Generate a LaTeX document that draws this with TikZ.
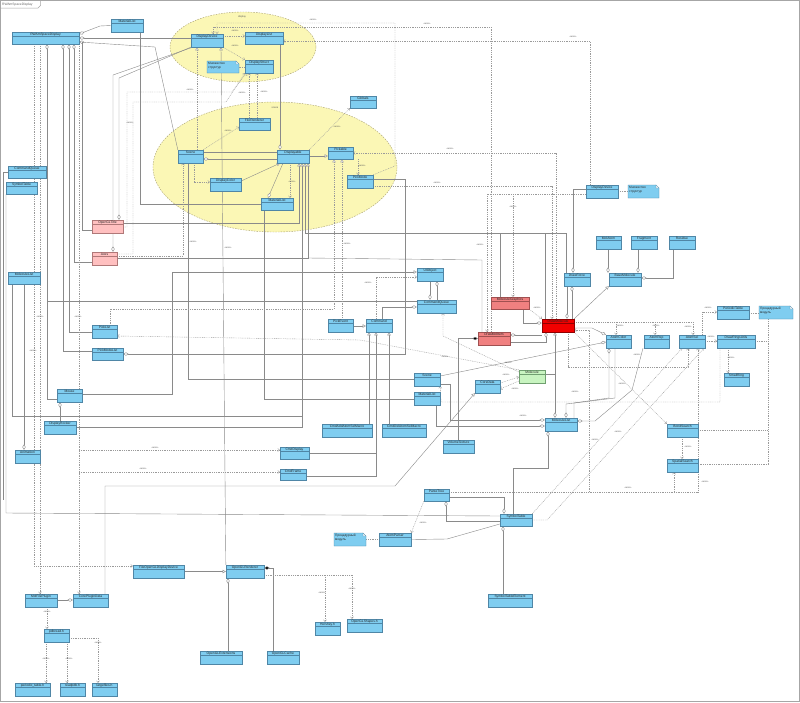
\documentclass[tikz,border=0pt]{standalone}
\usepackage{fontspec}
\setmainfont{Liberation Sans}
\usetikzlibrary{arrows.meta,calc}
\pgfdeclarelayer{bg}\pgfdeclarelayer{lines}
\pgfsetlayers{bg,lines,main}
\definecolor{cbf}{HTML}{7FCDF0}\definecolor{cbl}{HTML}{4F86A6}
\definecolor{pkf}{HTML}{FFC0C0}\definecolor{pkl}{HTML}{B07878}
\definecolor{lrf}{HTML}{F08080}\definecolor{lrl}{HTML}{A05050}
\definecolor{rdf}{HTML}{F20000}\definecolor{rdl}{HTML}{900000}
\definecolor{gnf}{HTML}{C8F4C0}\definecolor{gnl}{HTML}{70A070}
\definecolor{elf}{HTML}{FBF7B5}\definecolor{ell}{HTML}{A8A070}
\definecolor{lnc}{HTML}{8A8A8A}
\definecolor{dtc}{HTML}{9A9A9A}
\newcommand\umlc[7][cb]{%
  \node[clsbox, fill=#1f, draw=#1l, minimum width={(#5)-(#3)}, minimum height={(#6)-(#4)}] (#2) at ({((#3)+(#5))/2},{((#4)+(#6))/2}) {};
  \draw[draw=#1l, line width=0.3pt] ({#3},{#4+4.6}) -- ({#5},{#4+4.6});
  \node[ct] at ({((#3)+(#5))/2},{#4+2.4}) {#7};
}
\newcommand\umln[6]{%
  \node[inner sep=0pt, minimum width={(#4)-(#2)}, minimum height={(#5)-(#3)}] (#1) at ({((#2)+(#4))/2},{((#3)+(#5))/2}) {};
  \draw[draw=cbl, fill=cbf, line width=0.3pt] (#2,#3) -- ({#4-3},#3) -- (#4,{#3+3}) -- (#4,#5) -- (#2,#5) -- cycle;
  \draw[draw=cbl, fill=white, line width=0.3pt] ({#4-3},#3) -- ({#4-3},{#3+3}) -- (#4,{#3+3}) -- cycle;
  \node[ct, align=left, anchor=north west, font=\fontsize{3.2}{3.9}\selectfont] at ({#2+1},{#3+1.2}) {#6};
}
\begin{document}
\begin{tikzpicture}[x=1pt,y=-1pt,
  ct/.style={font=\fontsize{3.3}{3.8}\selectfont, inner sep=0pt, text=black!85},
  ut/.style={font=\fontsize{2.5}{3}\selectfont, inner sep=0.2pt, text=black!65},
  clsbox/.style={rectangle, line width=0.35pt, inner sep=0pt},
  con/.style={draw=lnc, line width=0.4pt},
  agg/.style={con, {Diamond[fill=white,length=5.5pt,width=3.2pt]}-},
  comp/.style={con, {Diamond[fill=black,length=5.5pt,width=3.2pt]}-},
  inh/.style={con, {Triangle[fill=white,length=3.2pt,width=3.4pt]}-},
  inhagg/.style={con, {Triangle[fill=white,length=3.2pt,width=3.4pt]}-{Diamond[fill=white,length=5.5pt,width=3.2pt]}},
  dots/.style={draw=dtc, line width=0.4pt, dash pattern=on 0.9pt off 0.9pt},
  dep/.style={dots, -{Straight Barb[length=1.8pt,width=3.2pt]}},
  real/.style={dots, {Triangle[fill=white,length=3.2pt,width=3.4pt]}-},
  ndot/.style={dots}]
\useasboundingbox (0,0) rectangle (800,702);
% frame
\draw[black!35, line width=0.8pt] (0.6,0.6) rectangle (799.4,701.4);
\draw[black!35, line width=0.5pt] (0.6,8) -- (38,8) -- (40.5,5.5) -- (40.5,0.6);
\node[ct, anchor=west, text=black!60] (frametitle) at (2,4.3) {RWAmSpaceDisplay};
% ---------- classes ----------
\umlc{matA}{111}{19}{143}{32}{MaterialList}
\umlc{rw}{12}{32}{79}{44}{RWAmSpaceDisplay}
\umlc{dd}{191}{34}{223}{47}{DisplayDevice}
\umlc{dl}{245}{32}{283}{44}{DisplayList}
\umlc{ds}{245}{60}{273}{73}{DisplayStruct}
\umln{noteA}{207}{61}{239}{73}{Множество\\структур}
\umlc{fr}{239}{118}{270}{130}{FileRenderer}
\umlc{glob}{350}{96}{376}{108}{Globals}
\umlc{scene}{178}{150}{203}{163}{Scene}
\umlc{disp}{277}{150}{309}{163}{Displayable}
\umlc{pick}{328}{147}{353}{159}{Pickable}
\umlc{pmode}{347}{175}{373}{188}{PickMode}
\umlc{dcol}{210}{178}{241}{191}{DisplayColor}
\umlc{matB}{261}{198}{293}{210}{MaterialList}
\umlc{cq}{8}{166}{46}{178}{CommandQueue}
\umlc{st}{6}{182}{37}{194}{SymbolTable}
\umlc[pk]{ogt}{92}{220}{123}{233}{OpenGLTitle}
\umlc[pk]{axes}{92}{252}{117}{265}{Axes}
\umlc{mlA}{8}{272}{40}{284}{MoleculeList}
\umlc{plist}{92}{325}{117}{338}{PickList}
\umlc{pml}{92}{348}{123}{360}{PickModeList}
\umlc{mouse}{57}{389}{82}{402}{Mouse}
\umlc{drock}{44}{421}{76}{434}{DisplayRocker}
\umlc{anim}{15}{450}{40}{463}{Animation}
\umlc{uio}{417}{268}{443}{281}{UIObject}
\umlc{cqB}{417}{300}{456}{313}{CommandQueue}
\umlc{pev}{328}{319}{353}{332}{PickEvent}
\umlc{cmd}{366}{319}{392}{332}{Command}
\umlc[lr]{mg}{491}{297}{529}{309}{MoleculeGraphics}
\umlc[lr]{dmi}{478}{332}{510}{345}{DrawMolItem}
\umlc[gn]{mol}{519}{370}{545}{383}{Molecule}
\umlc{sceneB}{414}{373}{440}{386}{Scene}
\umlc{matC}{414}{392}{440}{405}{MaterialList}
\umlc{core}{475}{380}{500}{393}{CoreData}
\umlc{cadd}{322}{424}{372}{437}{CmdAddAtomSelMacro}
\umlc{cdel}{382}{424}{426}{437}{CmdDelAtomSelMacro}
\umlc{vol}{443}{440}{474}{453}{VolumeTexture}
\umlc{cdisp}{280}{447}{309}{459}{CmdDisplay}
\umlc{cframe}{280}{469}{306}{480}{CmdFrame}
\umlc{molatom}{596}{236}{621}{249}{MolAtom}
\umlc{frag}{631}{236}{657}{249}{Fragment}
\umlc{res}{669}{236}{695}{249}{Residue}
\umlc{dforce}{564}{273}{590}{286}{DrawForce}
\umlc{bmol}{609}{273}{641}{286}{BaseMolecule}
\umlc[rd]{dmol}{542}{319}{574}{332}{DrawMolecule}
\umlc{acol}{606}{335}{631}{348}{AtomColor}
\umlc{arep}{644}{335}{669}{348}{AtomRep}
\umlc{asel}{679}{335}{705}{348}{AtomSel}
\umlc{drings}{717}{335}{755}{348}{DrawRingsUtils}
\umlc{ptab}{717}{306}{749}{319}{PeriodicTable}
\umln{noteB}{759}{306}{793}{319}{Процедурный\\модуль}
\umlc{sring}{724}{373}{749}{386}{SmallRing}
\umlc{mlB}{545}{418}{577}{431}{MoleculeList}
\umlc{bsearch}{667}{424}{698}{437}{BondSearch}
\umlc{ssearch}{667}{459}{698}{472}{SpatialSearch}
\umlc{ddB}{586}{185}{618}{198}{DisplayDevice}
\umln{noteC}{628}{185}{659}{198}{Множество\\структур}
\umlc{fogl}{133}{565}{184}{578}{FileOpenGLDisplayDevice}
\umlc{oglr}{226}{565}{264}{578}{OpenGLRenderer}
\umlc{molfp}{25}{594}{57}{607}{MolFilePlugin}
\umlc{cpd}{73}{594}{108}{607}{CorePluginData}
\umlc{pdbr}{44}{629}{69}{642}{pdbread.h}
\umlc{ptabh}{15}{683}{50}{696}{periodic\_table.h}
\umlc{rpdb}{60}{683}{85}{696}{readpdb.h}
\umlc{lfile}{92}{683}{117}{696}{largefiles.h}
\umlc{oglext}{200}{651}{242}{664}{OpenGLExtensions}
\umlc{ptree}{424}{489}{449}{501}{ParseTree}
\umlc{stB}{500}{514}{532}{526}{SymbolTable}
\umlc{apars}{379}{533}{411}{546}{AtomParser}
\umln{noteD}{334}{533}{366}{546}{Процедурный\\модуль}
\umlc{hersh}{315}{622}{340}{635}{Hershey.h}
\umlc{oglsh}{347}{619}{382}{632}{OpenGLShapes.h}
\umlc{oglc}{267}{651}{299}{664}{OpenGLCache}
\umlc{ste}{488}{594}{532}{607}{SymbolTableElement}
% ---------- packages (ellipses) ----------
\begin{pgfonlayer}{bg}
\fill[white] (0,0) rectangle (800,702);
\draw[draw=ell, fill=elf, dash pattern=on 1.5pt off 1.2pt, line width=0.4pt] (243,47) ellipse [x radius=73, y radius=35];
\draw[draw=ell, fill=elf, dash pattern=on 1.5pt off 1.2pt, line width=0.4pt] (275,167) ellipse [x radius=122, y radius=65];
\node[ut] (pkgA) at (242,17) {display};
\node[ut] (pkgB) at (275,108) {scene};
\end{pgfonlayer}
% ---------- connectors ----------
\begin{pgfonlayer}{lines}
% RWAmSpaceDisplay
\draw[agg] (rw.east |- 0,34) -- (100,26) -- (matA.west);
\draw[agg] (rw.east |- 0,38) -- (dd.west |- 0,38);
\draw[agg] (rw.east |- 0,42) -- (155,47) -- (scene.north west);
\draw[con] (82,42.2) -- (82,230) -- (ogt.west |- 0,230);
\draw[dep] (rw.south -| 34,0) -- (34,566) -- (fogl.west |- 0,566);
\draw[dep] (rw.south -| 40,0) -- (molfp.north -| 40,0);
\draw[agg] (rw.south -| 47,0) -- (47,301) -- (cqB.west |- 0,301);
\draw[con] (47,301) -- (47,399) -- (mouse.west |- 0,399);
\draw[agg] (rw.south -| 63,0) -- (63,351) -- (pml.west |- 0,351);
\draw[agg] (rw.south -| 69,0) -- (69,332) -- (plist.west |- 0,332);
\draw[agg] (rw.south -| 74,0) -- (74,262) -- (axes.west |- 0,262);
\draw[dep] (rw.south -| 79,0) -- (cpd.north -| 79,0);
\draw[dep] (79,450) -- (cdisp.west |- 0,450);
\draw[dep] (79,472) -- (cframe.west |- 0,472);
\draw[con] (st.south -| 6,0) -- (6,513) -- (stB.west |- 0,516);
\draw[con] (cq.west) -- (3.5,172) -- (3.5,500);
\draw[agg] (anim.north -| 24,0) -- (mlA.south -| 24,0);
\draw[con] (mlA.south -| 12,0) -- (12,416) -- (302,416);
\draw[con] (matA.south -| 140,0) -- (140,204) -- (matB.west |- 0,204);
\draw[con] (matB.south -| 264,0) -- (264,399) -- (matC.west |- 0,399);
\draw[con] (scene.south -| 188,0) -- (188,379) -- (sceneB.west |- 0,379);
% DisplayDevice
\draw[agg] (ogt.north -| 119,0) -- (119,78) -- (dd.south west);
\draw[agg] (axes.north -| 113,0) -- (113,75) -- ([xshift=2pt]dd.south west);
\draw[dep] (dd.east |- 0,36) -- (dl.west |- 0,36);
\draw[dep] (dd.south east) -- (ds.north west);
\draw[real] (dd.south -| 197,0) -- (scene.north -| 197,0);
\draw[inh] (dd.south -| 221,0) -- (oglr.north west);
\draw[dep] (dmi.north -| 491,0) -- (491,27) -- (213,27) -- (dd.north -| 213,0);
\draw[dep] (pmode.north east) -- (395,166) -- (395,23) -- (217,23) -- (dd.north -| 217,0);
\draw[dep] (ddB.north -| 590,0) -- (590,41) -- (dl.east |- 0,41);
\draw[dep] (ddB.west |- 0,194) -- (487,194) -- (dmi.north -| 487,0);
\draw[dep] (513,194) -- (mg.north -| 513,0);
\draw[agg] (dforce.north -| 573,0) -- (573,189) -- (ddB.west |- 0,189);
\draw[ndot] (ddB.east) -- (noteC.west);
\draw[ndot] (ds.west |- 0,67) -- (noteA.east |- 0,67);
% scene package
\draw[agg] (disp.north -| 280,0) -- (dl.south -| 280,0);
\draw[con] (scene.east |- 0,152) -- (disp.west |- 0,152);
\draw[agg] (scene.east |- 0,159) -- (disp.west |- 0,159);
\draw[dep] (scene.north east) -- (fr.west |- 0,127);
\draw[dep] (scene.south -| 194,0) -- (194,182) -- (dcol.west |- 0,182);
\draw[inh] (disp.south -| 280,0) -- (dcol.east |- 0,181);
\draw[agg] (matB.north -| 268,0) -- (disp.south -| 283,0);
\draw[dep] (disp.south -| 290,0) -- (matB.north -| 290,0);
\draw[inh] (pick.west |- 0,156) -- (disp.east |- 0,156);
\draw[dep] (disp.north east) -- (glob.south west);
\draw[dep] (pick.south -| 358,0) -- (pmode.north -| 358,0);
\draw[dep] (fr.north -| 249,0) -- (ds.south -| 249,0);
\draw[dep] (fr.north -| 257,0) -- (ds.south -| 257,0);
\draw[dep] (axes.east |- 0,254) -- (133,254) -- (133,102) -- (226,102) -- (ds.south west);
\draw[dep] (ogt.east |- 0,227) -- (127,227) -- (127,92) -- (232,92) -- ([xshift=1.5pt]ds.south west);
\draw[dep] (axes.east |- 0,256) -- (183,256) -- (scene.south -| 183,0);
% Displayable subclasses
\draw[inh] (disp.south -| 299,0) -- (299,223) -- (ogt.east |- 0,223);
\draw[inh] (disp.south -| 302,0) -- (302,427) -- (drock.east |- 0,427);
\draw[inh] (disp.south -| 305,0) -- (305,233) -- (566,233) -- (dforce.north -| 566,0);
\draw[con] (500,233) -- (mg.north -| 500,0);
\draw[con] (545,233) -- (dmol.north -| 545,0);
\draw[inh] (disp.south -| 308,0) -- (308,258) -- (axes.east |- 0,258);
\draw[con] (308,258) -- (482,260) -- (dmi.north -| 482,0);
% Pickable
\draw[real] (pick.south -| 334,0) -- (334,309) -- (110,309) -- (plist.north -| 110,0);
\draw[real] (pick.south -| 342,0) -- (pev.north -| 342,0);
\draw[dep] (dmol.north -| 556,0) -- (556,153) -- (pick.east |- 0,153);
\draw[dep] (pmode.east |- 0,186) -- (552,186) -- (dmol.north -| 552,0);
\draw[agg] (pml.east |- 0,354) -- (405,354) -- (405,179) -- (pmode.east |- 0,179);
% Mouse, UI, commands
\draw[inh] (uio.west |- 0,272) -- (172,272) -- (172,394) -- (mouse.east |- 0,394);
\draw[agg] (mouse.south -| 60,0) -- (drock.north -| 60,0);
\draw[dep] (cmd.north -| 376,0) -- (376,277) -- (uio.west |- 0,277);
\draw[agg] (cqB.north -| 430,0) -- (uio.south -| 430,0);
\draw[agg] (uio.south -| 437,0) -- (cqB.north -| 437,0);
\draw[agg] (cqB.west |- 0,307) -- (382,307) -- (cmd.north -| 382,0);
\draw[inh] (cmd.west |- 0,326) -- (pev.east |- 0,326);
\draw[inh] (cmd.south -| 369,0) -- (cadd.north -| 369,0);
\draw[inh] (cmd.south -| 389,0) -- (cdel.north -| 389,0);
\draw[inh] (cmd.south -| 376,0) -- (376,476) -- (cframe.east |- 0,476);
\draw[con] (376,453) -- (cdisp.east |- 0,453);
% Molecule area
\draw[dep] (mol.west |- 0,372) -- (443,336) -- (cqB.south -| 443,0);
\draw[dep] (mol.north west) -- (360,340) -- (plist.east |- 0,336);
\draw[dep] (core.east |- 0,383) -- (mol.west |- 0,377);
\draw[dep] (mol.west |- 0,381) -- (core.east |- 0,389);
\draw[inhagg] (dmol.south -| 555,0) -- (mlB.north -| 555,0);
\draw[con] (mol.east |- 0,374) -- (555,374);
\draw[agg] (dmol.south -| 546,0) -- (546,342) -- (dmi.east |- 0,342);
\draw[agg] (dmi.east |- 0,335) -- (dmol.west |- 0,335);
\draw[agg] (dmol.west |- 0,323) -- (523,323) -- (mg.south -| 523,0);
\draw[dep] (mg.south east) -- (dmol.north west);
\draw[agg] (dmol.north -| 567,0) -- (dforce.south -| 567,0);
\draw[agg] (dforce.south -| 572,0) -- (dmol.north -| 572,0);
\draw[inh] (bmol.south west) -- (dmol.north east);
\draw[agg] (bmol.north -| 608,0) -- (molatom.south -| 608,0);
\draw[agg] (bmol.north -| 638,0) -- (frag.south -| 638,0);
\draw[agg] (bmol.east |- 0,278) -- (673,278) -- (res.south -| 673,0);
\draw[comp] (dmi.west) -- (458,338.5) -- (vol.north -| 458,0);
% DrawMolecule dependencies
\draw[dep] (dmol.east |- 0,322) -- (693,322) -- (asel.north -| 693,0);
\draw[dep] (616,322) -- (acol.north -| 616,0);
\draw[dep] (655,322) -- (arep.north -| 655,0);
\draw[agg] (acol.north west) -- (592,328) -- (dmol.east |- 0,328);
\draw[agg] (acol.west |- 0,342) -- (sceneB.east |- 0,376);
\draw[agg] (acol.south -| 609,0) -- (609,398) -- (574,403) -- (mlB.north -| 574,0);
\draw[agg] (mlB.north -| 566,0) -- (566,404) -- (615,398) -- (acol.south -| 615,0);
\draw[agg] (mlB.east |- 0,421) -- (595,421) -- (632,390) -- (arep.south -| 643,0);
\draw[agg] (mlB.west |- 0,420) -- (450,420) -- (450,384) -- (sceneB.east |- 0,384);
\draw[agg] (mlB.west |- 0,426) -- (436,426) -- (matC.south -| 436,0);
\draw[agg] (mlB.south -| 548,0) -- (548,468) -- (513,468) -- (stB.north -| 513,0);
\draw[dep] (dmol.south east) -- (bsearch.north west);
\draw[dep] (dmol.south -| 568,0) -- (568,367) -- (688,367) -- (asel.south -| 688,0);
\draw[dep] (drings.south -| 720,0) -- (720,402) -- (441,402) -- (sceneB.south east);
% AtomSel, rings, search
\draw[dep] (asel.east |- 0,341) -- (drings.west |- 0,341);
\draw[dep] (asel.north -| 702,0) -- (702,312) -- (ptab.west |- 0,312);
\draw[dep] (drings.south -| 728,0) -- (sring.north -| 728,0);
\draw[ndot] (ptab.east |- 0,313) -- (noteB.west |- 0,313);
\draw[ndot] (noteB.south -| 768,0) -- (768,464) -- (ssearch.east |- 0,464);
\draw[ndot] (drings.east) -- (768,341.5);
\draw[ndot] (bsearch.east) -- (768,430.5);
\draw[dep] (bsearch.south -| 682,0) -- (ssearch.north -| 682,0);
\draw[dep] (stB.north east) -- (asel.south -| 682,0);
\draw[dep] (stB.east) -- (547,520) -- (asel.south -| 704,0);
\draw[dep] (ptree.east |- 0,492) -- (674,492) -- (ssearch.south -| 674,0);
\draw[dep] (674,492) -- (698,492) -- (asel.south -| 698,0);
\draw[dep] (589,492) -- (589,330) -- (dmol.east |- 0,330);
% plugins, parser, renderer
\draw[inh] (core.south west) -- (395,486) -- (105,486) -- (cpd.north -| 105,0);
\draw[agg] (cpd.west |- 0,600) -- (molfp.east |- 0,600);
\draw[dep] (molfp.south -| 47,0) -- (pdbr.north -| 47,0);
\draw[dep] (pdbr.south -| 46,0) -- (ptabh.north -| 46,0);
\draw[dep] (pdbr.south -| 67,0) -- (rpdb.north -| 67,0);
\draw[dep] (pdbr.east |- 0,638) -- (98,638) -- (lfile.north -| 98,0);
\draw[inh] (oglr.west) -- (fogl.east);
\draw[agg] (oglr.south -| 228,0) -- (oglext.north -| 228,0);
\draw[comp] (oglr.east |- 0,568) -- (273,568) -- (oglc.north -| 273,0);
\draw[dep] (oglr.east |- 0,575) -- (352,575) -- (oglsh.north -| 352,0);
\draw[dep] (325,575) -- (hersh.north -| 325,0);
\draw[agg] (stB.north -| 504,0) -- (504,497) -- (ptree.east |- 0,497);
\draw[agg] (ptree.south -| 446,0) -- (446,521) -- (stB.west |- 0,521);
\draw[dep] (ptree.south west) -- (apars.north east);
\draw[ndot] (noteD.east) -- (apars.west);
\draw[con] (apars.east) -- (447,539) -- (stB.west |- 0,524);
\draw[agg] (stB.south -| 503,0) -- (ste.north -| 503,0);
\end{pgfonlayer}
% ---------- stereotype labels ----------
\foreach \px/\py in {235/31, 235/46, 190/90, 242/93, 264/92, 228/131, 337/127, 362/166, 292/182,
  313/20, 427/24, 573/37, 450/149, 437/183, 513/207, 130/123,
  193/242, 228/248, 40/317, 78/317, 33/351, 155/448, 143/469,
  347/244, 368/283, 480/245, 445/357, 508/363, 506/375, 515/389, 523/416,
  537/308, 620/326, 656/326, 688/327, 708/308, 711/337, 731/358, 637/355, 622/384, 575/392,
  618/432, 595/440, 688/447, 423/523, 322/593, 352/589, 47/612, 46/659, 69/659, 98/643,
  628/488, 705/482}
  \node[ut] at (\px,\py) {«use»};
\end{tikzpicture}
\end{document}
